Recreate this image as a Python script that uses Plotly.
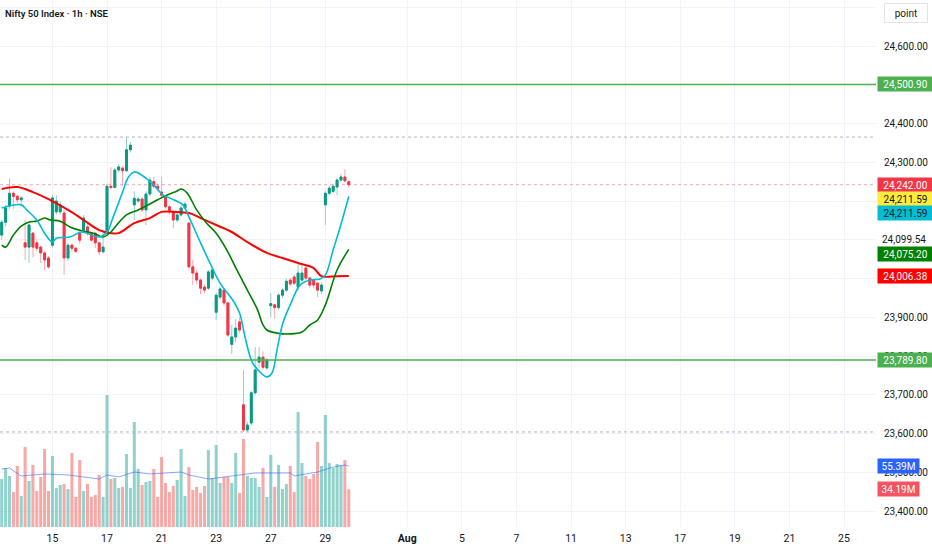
import plotly.graph_objects as go

# hourly bars, Jul 11 (partial) .. Jul 29
opens = [24112, 24145, 24187, 24220, 24212, 24203,
         24092, 24081, 24117, 24092, 24081, 24066, 24053,
         24086, 24172, 24172, 24169, 24053, 24086, 24078,
         24117, 24125, 24133, 24117, 24117, 24092, 24069,
         24117, 24238, 24235, 24280, 24285, 24278, 24332,
         24190, 24200, 24205, 24177, 24218, 24250, 24238,
         24223, 24210, 24185, 24172, 24151, 24164, 24182,
         24143, 24030, 24014, 23996, 23978, 23975, 24001,
         23913, 23952, 23970, 23937, 23830, 23849, 23888,
         23674, 23609, 23627, 23705, 23784, 23797, 23769,
         23930, 23932, 23925, 23957, 23970, 23996, 24004,
         23978, 23996, 24027, 24001, 23996, 23988, 23968,
         24190, 24220, 24225, 24236, 24254, 24262, 24250]
highs = [24151, 24190, 24258, 24225, 24215, 24212,
         24151, 24141, 24120, 24100, 24085, 24070, 24058,
         24215, 24215, 24198, 24177, 24092, 24090, 24082,
         24125, 24164, 24140, 24120, 24120, 24095, 24120,
         24245, 24287, 24285, 24295, 24290, 24365, 24352,
         24225, 24210, 24210, 24225, 24262, 24262, 24245,
         24262, 24215, 24190, 24175, 24170, 24190, 24198,
         24145, 24048, 24022, 24000, 23985, 24022, 24030,
         23962, 23980, 23975, 23940, 23880, 23895, 23900,
         23764, 23630, 23710, 23823, 23823, 23812, 23795,
         23962, 23935, 23962, 23975, 24000, 24001, 24010,
         24040, 24040, 24035, 24005, 24000, 23990, 23990,
         24225, 24240, 24245, 24260, 24270, 24282, 24252]
lows = [24099, 24135, 24180, 24180, 24195, 24190,
        24048, 24040, 24055, 24070, 24040, 24022, 24025,
        24080, 24165, 24165, 24009, 24045, 24070, 24065,
        24090, 24120, 24110, 24095, 24078, 24060, 24065,
        24110, 24230, 24232, 24275, 24240, 24275, 24325,
        24151, 24195, 24172, 24138, 24212, 24232, 24225,
        24205, 24180, 24165, 24130, 24145, 24160, 24178,
        24025, 23983, 23985, 23960, 23962, 23970, 23995,
        23893, 23945, 23930, 23850, 23805, 23835, 23860,
        23604, 23604, 23620, 23700, 23770, 23765, 23765,
        23900, 23896, 23920, 23950, 23965, 23980, 23983,
        23970, 23990, 23996, 23975, 23975, 23952, 23960,
        24138, 24215, 24220, 24215, 24250, 24248, 24235]
closes = [24145, 24182, 24220, 24212, 24203, 24208,
          24081, 24138, 24081, 24078, 24066, 24048, 24030,
          24208, 24200, 24190, 24053, 24086, 24078, 24070,
          24099, 24156, 24117, 24099, 24092, 24069, 24081,
          24238, 24235, 24280, 24288, 24278, 24332, 24344,
          24207, 24205, 24177, 24218, 24254, 24238, 24232,
          24215, 24185, 24172, 24151, 24164, 24182, 24192,
          24030, 24014, 23996, 23975, 23970, 24017, 24022,
          23957, 23973, 23937, 23854, 23849, 23872, 23867,
          23609, 23622, 23705, 23764, 23797, 23771, 23790,
          23935, 23925, 23957, 23970, 23993, 23986, 23988,
          24014, 24014, 24001, 23983, 23983, 23970, 23983,
          24220, 24233, 24238, 24254, 24262, 24252, 24242]
# volume in millions
volumes = [43.6, 53.6, 46.4, 31.8, 55.5, 28.2,
           72.7, 41.8, 56.4, 32.7, 45.5, 70.9, 32.7,
           64.5, 35.5, 38.2, 39.1, 34.5, 67.3, 27.3,
           60.9, 32.7, 39.1, 27.3, 29.1, 47.3, 27.3,
           120.0, 43.6, 44.5, 35.5, 36.4, 66.4, 35.5,
           95.5, 52.7, 38.2, 40.9, 41.8, 52.7, 27.3,
           63.6, 40.0, 31.8, 37.3, 42.7, 70.9, 28.2,
           54.5, 33.6, 36.4, 30.9, 37.3, 70.0, 44.5,
           74.5, 40.0, 45.5, 45.5, 40.0, 67.3, 30.9,
           80.0, 46.4, 44.5, 44.5, 36.4, 53.6, 27.3,
           65.5, 36.4, 56.4, 34.5, 39.1, 55.5, 31.8,
           104.5, 58.2, 46.4, 43.6, 48.2, 77.3, 55.5,
           101.8, 58.2, 53.6, 57.3, 56.4, 60.9, 34.19]
bars = list(range(len(opens)))

# moving averages (bar position, value)
red_x = [0, 4, 8, 12, 17, 21, 25, 28, 30, 34, 38, 41, 44, 48, 51, 55, 59, 63,
         68, 72, 76, 80, 82, 86, 89]
red_y = [24231, 24236, 24223, 24205, 24177, 24151, 24125, 24117, 24117, 24143,
         24156, 24172, 24172, 24169, 24156, 24138, 24120, 24094, 24066, 24053,
         24040, 24027, 24006, 24006, 24006.38]
green_x = [0, 1, 3, 5, 7, 9, 11, 12.4, 15, 17.5, 20.5, 23.5, 26, 28, 29.5, 32,
           35, 37, 40, 42.3, 45, 46, 47.5, 50, 52.5, 55, 57.7, 60.3, 63, 65.6,
           67, 68, 70.6, 74, 77, 79, 81, 83, 86, 89]
green_y = [24086, 24081, 24112, 24135, 24146, 24148, 24156, 24151, 24148, 24133,
           24123, 24117, 24107, 24120, 24138, 24164, 24177, 24187, 24203, 24215,
           24226, 24231, 24221, 24177, 24143, 24117, 24074, 24022, 23970, 23919,
           23880, 23867, 23859, 23857, 23862, 23880, 23893, 23932, 24022, 24075.2]
cyan_x = [0, 5, 6.4, 9, 11, 13, 14, 17.5, 20.5, 25, 27, 28.6, 31, 32.5, 34, 37,
          39, 41.4, 43, 46.5, 48, 51, 53.4, 56, 59.4, 61, 62.4, 64.2, 66.2, 68,
          69.3, 70.6, 72.1, 74, 76.5, 79, 81.6, 83, 85, 86.8, 89]
cyan_y = [24182, 24190, 24177, 24151, 24117, 24094, 24104, 24107, 24120, 24107,
          24120, 24159, 24223, 24262, 24275, 24259, 24241, 24215, 24208, 24190,
          24159, 24092, 24040, 23988, 23942, 23911, 23849, 23785, 23759, 23746,
          23756, 23816, 23885, 23932, 23983, 23996, 23999, 24009, 24074, 24133,
          24211.59]
vma_x = [0, 2, 5, 11, 17, 25, 27, 30, 34, 38, 46, 48, 53, 59, 65, 74, 75, 81,
         85, 88, 89]
vma_y = [52.7, 53.6, 46.4, 48.2, 47.3, 43.6, 47.3, 45.5, 50.0, 48.2, 50.0, 47.3,
         43.6, 46.4, 49.1, 49.1, 46.4, 50.0, 54.5, 56.4, 55.39]

x_tick_pos = [13, 27, 41, 55, 69, 83, 104, 118, 132, 146, 160, 174, 188, 202, 216]
x_tick_text = ['15', '17', '21', '23', '27', '29', '<b>Aug</b>', '5', '7', '11',
               '13', '17', '19', '21', '25']
price_ticks = list(range(23400, 24701, 100))
# labels covered by the price badges / the "point" button
hidden_ticks = [24000, 24100, 24200, 24500, 24700]

level_top = 24500.90
level_bottom = 23789.80
last_price = 24242.00

UP, DOWN = '#089981', '#f23645'
FONT = 'Roboto, sans-serif'

vol_colors = ['rgba(38,166,154,0.5)' if c >= o else 'rgba(239,83,80,0.5)'
              for o, c in zip(opens, closes)]
body_hi = [max(o, c) for o, c in zip(opens, closes)]
body_lo = [min(o, c) for o, c in zip(opens, closes)]

fig = go.Figure()
fig.add_trace(go.Bar(x=bars, y=volumes, marker_color=vol_colors,
                     marker_line_width=0, yaxis='y', hoverinfo='skip'))
fig.add_trace(go.Scatter(x=vma_x, y=vma_y, mode='lines', yaxis='y',
                         line=dict(color='rgba(41,98,255,0.55)', width=1)))
# wicks (light) then bodies (solid)
fig.add_trace(go.Candlestick(
    x=bars, open=opens, high=highs, low=lows, close=closes, yaxis='y2',
    increasing=dict(line=dict(color='#8fd1c6', width=1), fillcolor='#8fd1c6'),
    decreasing=dict(line=dict(color='#f8a5ad', width=1), fillcolor='#f8a5ad')))
fig.add_trace(go.Candlestick(
    x=bars, open=opens, high=body_hi, low=body_lo, close=closes, yaxis='y2',
    increasing=dict(line=dict(color=UP, width=1), fillcolor=UP),
    decreasing=dict(line=dict(color=DOWN, width=1), fillcolor=DOWN)))
fig.add_trace(go.Scatter(x=red_x, y=red_y, mode='lines', yaxis='y2',
                         line=dict(color='#ff0000', width=2, shape='spline')))
fig.add_trace(go.Scatter(x=green_x, y=green_y, mode='lines', yaxis='y2',
                         line=dict(color='#008000', width=1.6, shape='spline')))
fig.add_trace(go.Scatter(x=cyan_x, y=cyan_y, mode='lines', yaxis='y2',
                         line=dict(color='#00bcd4', width=1.6, shape='spline')))

shapes = []
for lv in (level_top, level_bottom):
    shapes.append(dict(type='line', xref='paper', x0=0, x1=1, yref='y2', y0=lv, y1=lv,
                       line=dict(color='#4caf50', width=1.5)))
for lv in (max(highs), min(lows)):
    shapes.append(dict(type='line', xref='paper', x0=0, x1=1, yref='y2', y0=lv, y1=lv,
                       line=dict(color='#b2b5be', width=1, dash='dot')))
shapes.append(dict(type='line', xref='paper', x0=0, x1=1, yref='y2',
                   y0=last_price, y1=last_price,
                   line=dict(color='rgba(242,54,69,0.45)', width=1, dash='dot')))

annotations = [
    dict(text='Nifty 50 Index · 1h · NSE', xref='paper', yref='paper', x=0, y=1,
         xanchor='left', yanchor='top', xshift=3, yshift=-6, showarrow=False,
         font=dict(family=FONT, size=9.5, color='#131722', weight=600)),
    dict(text='point', xref='paper', yref='paper', x=1, y=1, xanchor='left',
         yanchor='top', xshift=8, yshift=-3, showarrow=False, width=38, height=14,
         bordercolor='#e0e3eb', borderwidth=1, borderpad=2, bgcolor='white',
         font=dict(family=FONT, size=10, color='#131722')),
    dict(text='24,099.54', xref='paper', yref='y2', x=1, y=24099.54, xanchor='left',
         xshift=4, showarrow=False, font=dict(family=FONT, size=10, color='#131722')),
]
badges = [
    (level_top, '24,500.90', '#4caf50', 'white', 0, 'y2', 53),
    (last_price, '24,242.00', '#f23645', 'white', 0, 'y2', 53),
    (24211.59, '24,211.59', '#ffeb3b', '#131722', -2.5, 'y2', 53),
    (24211.59, '24,211.59', '#00bcd4', '#131722', -16.5, 'y2', 53),
    (24075.20, '24,075.20', '#008000', 'white', -4.6, 'y2', 53),
    (24006.38, '24,006.38', '#ff0000', 'white', 0, 'y2', 53),
    (level_bottom, '23,789.80', '#4caf50', 'white', 0, 'y2', 53),
    (55.39, '55.39M', '#2962ff', 'white', 0, 'y', 39),
    (34.19, '34.19M', '#f7525f', 'white', 0, 'y', 39),
]
for val, txt, bg, fg, shift, yref, w in badges:
    annotations.append(dict(text=txt, xref='paper', yref=yref, x=1, y=val,
                            xanchor='left', yanchor='middle', xshift=1, yshift=shift,
                            showarrow=False, bgcolor=bg, width=w, height=12,
                            borderpad=1, font=dict(family=FONT, size=10, color=fg)))

fig.update_layout(
    width=932, height=550, autosize=False,
    margin=dict(l=0, r=56, t=0, b=23),
    paper_bgcolor='white', plot_bgcolor='white',
    showlegend=False, bargap=0.22,
    xaxis=dict(range=[-0.44, 224.2], tickvals=x_tick_pos, ticktext=x_tick_text,
               showgrid=True, gridcolor='#f0f3fa', zeroline=False, ticks='',
               rangeslider=dict(visible=False), showline=False, ticklabelstandoff=3,
               tickfont=dict(family=FONT, size=10.5, color='#131722')),
    yaxis=dict(range=[0, 479], visible=False, fixedrange=True),
    yaxis2=dict(overlaying='y', side='right', range=[23358.7, 24718.7],
                tickvals=price_ticks,
                ticktext=['' if t in hidden_ticks else f'{t:,.2f}' for t in price_ticks],
                showgrid=True, gridcolor='#f0f3fa', zeroline=False, ticks='',
                ticklabelstandoff=7, showline=False,
                tickfont=dict(family=FONT, size=10, color='#131722')),
    shapes=shapes, annotations=annotations,
)

fig.write_html('out.html', config={'displayModeBar': False},
               post_script="document.body.style.margin='0';")
